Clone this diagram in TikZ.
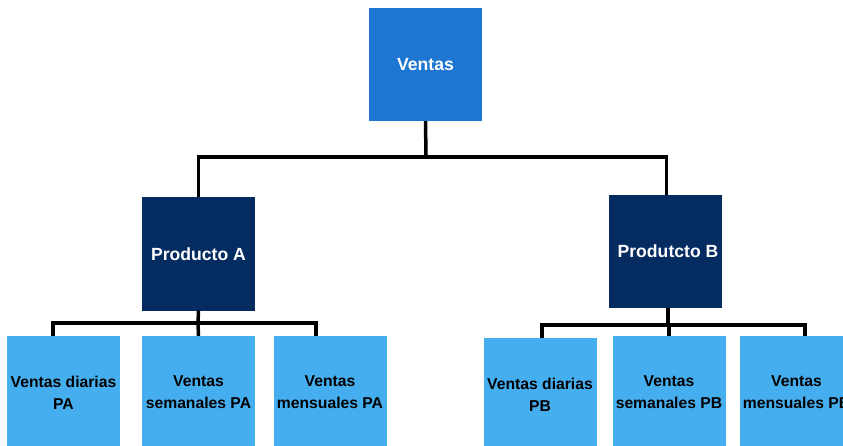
\documentclass[tikz,border=0pt]{standalone}
\usepackage{fontspec}
\setmainfont{Liberation Sans}
\definecolor{topblue}{RGB}{28,118,210}
\definecolor{navy}{RGB}{5,44,97}
\definecolor{light}{RGB}{69,174,239}
\begin{document}
\begin{tikzpicture}[x=1pt,y=-1pt,
  box/.style={draw=none,inner sep=0pt,minimum width=113pt,minimum height=113pt,align=center,font=\bfseries},
  topbox/.style={box,fill=topblue,text=white,font=\bfseries\fontsize{17.6}{20}\selectfont},
  midbox/.style={box,fill=navy,text=white,font=\bfseries\fontsize{17.6}{20}\selectfont},
  leafbox/.style={box,fill=light,text=black,font=\bfseries\fontsize{15.7}{22}\selectfont},
  conn/.style={draw=black,line width=3.5pt,line join=miter}]
\clip (0,0) rectangle (843,446);
\node[topbox] (ventas) at (425.5,64.5) {Ventas};
\node[midbox] (pa) at (198.5,254) {Producto A};
\node[midbox] (pb) at (665.5,251.5) {\hspace*{5pt}Produtcto B};
\node[leafbox] (a1) at (63.5,392.5) {Ventas diarias\\PA};
\node[leafbox] (a2) at (198.5,392.5) {Ventas\\semanales PA};
\node[leafbox] (a3) at (330,392.5) {Ventas\\mensuales PA};
\node[leafbox] (b1) at (540,394.5) {Ventas diarias\\PB};
\node[leafbox] (b2) at (669,392.5) {Ventas\\semanales PB};
\node[leafbox] (b3) at (796.5,392.5) {Ventas\\mensuales PB};
\coordinate (bus0) at (426,157);
\coordinate (busA) at (198,323);
\coordinate (busB) at (668,325);
\draw[conn] (ventas.south) -- (bus0);
\draw[conn] (bus0) -| (pa.north);
\draw[conn] (bus0) -| ([xshift=1pt]pb.north);
\draw[conn] (pa.south) -- (busA);
\draw[conn] (busA) -| ([xshift=-10.5pt]a1.north);
\draw[conn] (busA) -- (a2.north);
\draw[conn] (busA) -| ([xshift=-14pt]a3.north);
\draw[conn] ([xshift=2.5pt]pb.south) -- (busB);
\draw[conn] (busB) -| ([xshift=2pt]b1.north);
\draw[conn] (busB) -| (b2.north);
\draw[conn] (busB) -| ([xshift=8.5pt]b3.north);
\end{tikzpicture}
\end{document}
